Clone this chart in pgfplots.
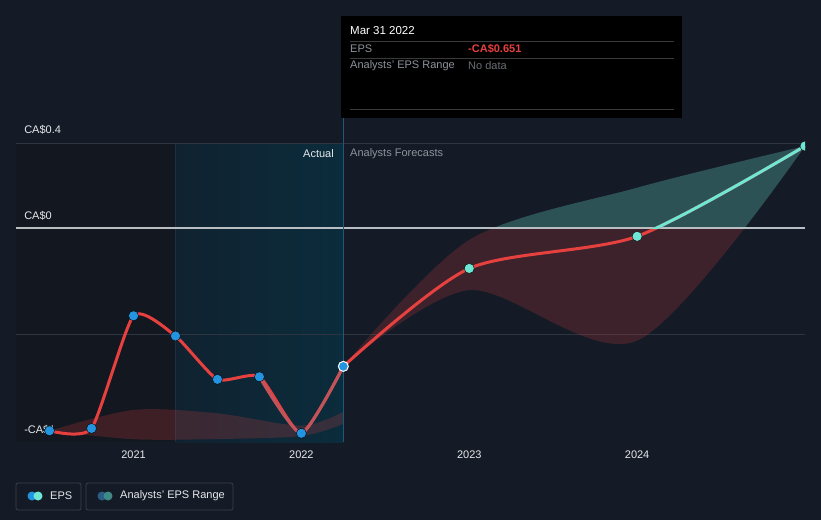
\documentclass[border=0pt]{standalone}
\usepackage{fontspec}
\setmainfont{Liberation Sans}
\usepackage{pgfplots}
\pgfplotsset{compat=1.18}
\usepgfplotslibrary{fillbetween}
\tikzset{fill between/on layer=main}

\definecolor{bg}{HTML}{151B26}
\definecolor{darkreg}{HTML}{13171F}
\definecolor{tealL}{HTML}{102230}
\definecolor{tealR}{HTML}{0B2C3C}
\definecolor{vline}{HTML}{1B5A78}
\definecolor{sepline}{HTML}{1C3040}
\definecolor{gridc}{HTML}{2E3440}
\definecolor{zeroc}{HTML}{B8BEC2}
\definecolor{axisc}{HTML}{4B515C}
\definecolor{epsred}{HTML}{E6413F}
\definecolor{dullred}{HTML}{C0545B}
\definecolor{epsblue}{HTML}{2394DF}
\definecolor{epsteal}{HTML}{6EE7D4}
\definecolor{txt}{HTML}{E6E8EB}
\definecolor{greytxt}{HTML}{8E939B}
\definecolor{nodata}{HTML}{6A6E74}
\definecolor{ttline}{HTML}{3A3A3A}
\definecolor{legborder}{HTML}{3A404A}
\definecolor{legblue}{HTML}{2B5E84}
\definecolor{legteal}{HTML}{3E8A85}

\newcommand{\fs}{\fontsize{11}{13}\selectfont}

\begin{document}
\begin{tikzpicture}
\fill[bg] (0pt,0pt) rectangle (821pt,-520pt);
\begin{axis}[
  at={(16pt,-442pt)}, anchor=south west,
  scale only axis, width=789pt, height=426pt,
  xmin=2020.30, xmax=2025.0, ymin=-1.007, ymax=0.998,
  axis x line*=bottom, axis y line=none,
  x axis line style={draw=axisc, line width=1pt, -},
  xtick={2021,2022,2023,2024}, xticklabels={2021,2022,2023,2024},
  ytick=\empty,
  tick align=outside, major tick length=5pt,
  xtick style={draw=axisc, line width=0.8pt},
  xticklabel style={text=txt, font=\fs},
  clip=true, clip marker paths=true,
  ]
% past / actual regions
\fill[darkreg] (axis cs:2020.30,0.4) rectangle (axis cs:2021.25,-1.007);
\shade[left color=tealL, right color=tealR] (axis cs:2021.25,0.4) rectangle (axis cs:2022.25,-1.007);
\draw[sepline, line width=0.8pt] (axis cs:2021.25,0.4) -- (axis cs:2021.25,-1.007);
\draw[gridc, line width=1pt] (axis cs:2020.30,0.4) -- (axis cs:2025,0.4);
\draw[gridc, line width=1pt] (axis cs:2020.30,-0.5) -- (axis cs:2025,-0.5);

% analysts range, past
\addplot[draw=none, mark=none, smooth, tension=0.5, name path=HU] coordinates {
  (2020.5,-0.954) (2021,-0.856) (2021.5,-0.872) (2022,-0.930) (2022.25,-0.864)};
\addplot[draw=none, mark=none, smooth, tension=0.5, name path=HL] coordinates {
  (2020.5,-0.954) (2021,-0.994) (2021.5,-0.993) (2022,-0.979) (2022.25,-0.922)};
\addplot[fill=epsred, fill opacity=0.2, draw=none] fill between[of=HU and HL];

% analysts range, forecast
\addplot[draw=none, mark=none, smooth, tension=0.5, name path=FU] coordinates {
  (2022.25,-0.651) (2023,-0.056) (2024,0.190) (2025,0.386)};
\addplot[draw=none, mark=none, smooth, tension=0.5, name path=FL] coordinates {
  (2022.25,-0.651) (2023,-0.292) (2024,-0.530) (2025,0.386)};
\addplot[fill=epsred, fill opacity=0.2, draw=none] fill between[of=FU and FL, soft clip={domain y=-2:0}];
\addplot[fill=epsteal, fill opacity=0.27, draw=none] fill between[of=FU and FL, soft clip={domain y=0:1}];

\draw[zeroc, line width=1.2pt] (axis cs:2020.30,0) -- (axis cs:2025,0);
\draw[vline, line width=1pt] (axis cs:2022.25,-1.007) -- (axis cs:2022.25,0.518);

\node[anchor=west, inner sep=0pt, text=txt, font=\fs] at (axis cs:2020.348,0.461) {CA\$0.4};
\node[anchor=west, inner sep=0pt, text=txt, font=\fs] at (axis cs:2020.348,0.0565) {CA\$0};
\node[anchor=west, inner sep=0pt, text=txt, font=\fs] at (axis cs:2020.348,-0.951) {-CA\$1};

% EPS lines
\addplot[epsred, line width=3pt, smooth, tension=0.35, mark=none] coordinates {
  (2020.5,-0.954) (2020.75,-0.943) (2021,-0.413) (2021.25,-0.508)
  (2021.5,-0.712) (2021.75,-0.700) (2022,-0.966) (2022.25,-0.651)};
\addplot[dullred, line width=3pt, smooth, tension=0.35, mark=none] coordinates {
  (2021.75,-0.700) (2022,-0.966) (2022.25,-0.651)};
\addplot[epsred, line width=3pt, smooth, tension=0.45, mark=none] coordinates {
  (2022.25,-0.651) (2023,-0.190) (2024,-0.039) (2025,0.386)};
\begin{scope}
\clip (axis cs:2022,0) rectangle (axis cs:2025.1,0.6);
\addplot[epsteal, line width=3pt, smooth, tension=0.45, mark=none] coordinates {
  (2022.25,-0.651) (2023,-0.190) (2024,-0.039) (2025,0.386)};
\end{scope}

% markers
\addplot[only marks, mark=*, mark size=5pt, mark options={draw=none, fill=epsblue}] coordinates {
  (2020.5,-0.954) (2020.75,-0.943) (2021,-0.413) (2021.25,-0.508)
  (2021.5,-0.712) (2021.75,-0.700) (2022,-0.966)};
\addplot[only marks, mark=*, mark size=5pt, mark options={draw=white, line width=1pt, fill=epsblue}] coordinates {
  (2022.25,-0.651)};
\addplot[only marks, mark=*, mark size=5pt, mark options={draw=none, fill=epsteal}] coordinates {
  (2023,-0.190) (2024,-0.039) (2025,0.386)};
\end{axis}

\node[anchor=east, inner sep=0pt, text=txt, font=\fs] at (334pt,-154pt) {Actual};
\node[anchor=west, inner sep=0pt, text=greytxt, font=\fs] at (350pt,-154pt) {Analysts Forecasts};

% tooltip
\fill[black] (341pt,-16pt) rectangle (682pt,-118pt);
\draw[ttline, line width=0.8pt] (350pt,-41pt) -- (674pt,-41pt);
\draw[ttline, line width=0.8pt] (350pt,-58pt) -- (674pt,-58pt);
\draw[ttline, line width=0.8pt] (350pt,-109pt) -- (674pt,-109pt);
\node[anchor=west, inner sep=0pt, text=white, font=\fontsize{11.5}{13}\selectfont] at (350pt,-31pt) {Mar 31 2022};
\node[anchor=west, inner sep=0pt, text=greytxt, font=\fs] at (350pt,-49pt) {EPS};
\node[anchor=west, inner sep=0pt, text=epsred, font=\fs\bfseries] at (468pt,-49pt) {-CA\$0.651};
\node[anchor=west, inner sep=0pt, text=greytxt, font=\fs] at (350pt,-66pt) {Analysts' EPS Range};
\node[anchor=west, inner sep=0pt, text=nodata, font=\fs] at (468pt,-66pt) {No data};

% legend
\draw[legborder, rounded corners=2pt, line width=0.8pt] (16pt,-483pt) rectangle (81pt,-510pt);
\fill[epsblue] (32pt,-496pt) circle (4.5pt);
\fill[epsteal] (38pt,-496pt) circle (4.5pt);
\node[anchor=west, inner sep=0pt, text=txt, font=\fs] at (50pt,-496pt) {EPS};
\draw[legborder, rounded corners=2pt, line width=0.8pt] (86pt,-483pt) rectangle (233pt,-510pt);
\fill[legblue] (102pt,-496pt) circle (4.5pt);
\fill[legteal] (108pt,-496pt) circle (4.5pt);
\node[anchor=west, inner sep=0pt, text=txt, font=\fs] at (120pt,-496pt) {Analysts' EPS Range};

\pgfresetboundingbox
\useasboundingbox (0pt,0pt) rectangle (821pt,-520pt);
\end{tikzpicture}
\end{document}
